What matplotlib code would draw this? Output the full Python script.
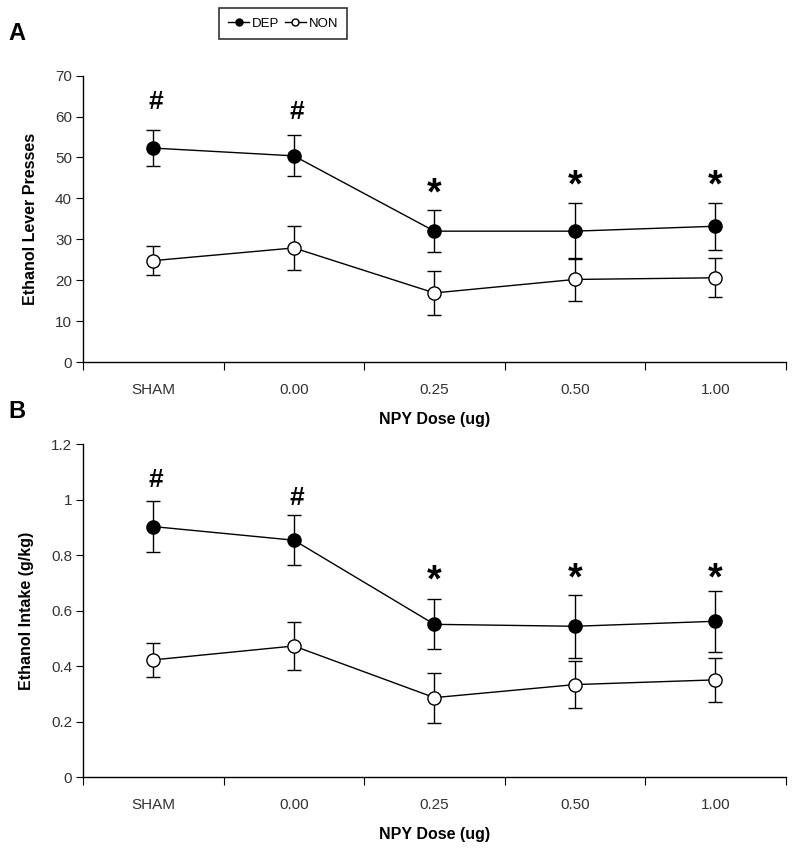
import numpy as np
import matplotlib
matplotlib.use('Agg')
import matplotlib.pyplot as plt
from matplotlib.lines import Line2D

plt.rcParams['font.family'] = ['Liberation Sans', 'DejaVu Sans']

doses = ['SHAM', '0.00', '0.25', '0.50', '1.00']

# panel A - lever presses
dep_press = [52.3, 50.4, 32.0, 32.0, 33.2]
dep_press_err = [4.4, 5.0, 5.2, 6.9, 5.8]
non_press = [24.8, 27.9, 16.9, 20.2, 20.6]
non_press_err = [3.6, 5.4, 5.4, 5.2, 4.8]
marks_press = ['#', '#', '*', '*', '*']
mark_y_press = [63.6, 61.0, 41.0, 42.8, 43.0]

# panel B - intake (g/kg)
dep_intake = [0.903, 0.854, 0.551, 0.544, 0.562]
dep_intake_err = [0.092, 0.09, 0.09, 0.113, 0.11]
non_intake = [0.423, 0.473, 0.287, 0.334, 0.351]
non_intake_err = [0.06, 0.087, 0.09, 0.085, 0.08]
marks_intake = ['#', '#', '*', '*', '*']
mark_y_intake = [1.07, 1.005, 0.705, 0.713, 0.713]

fig = plt.figure(figsize=(8, 8.5), dpi=100)
axA = fig.add_axes([0.104, 0.574, 0.878, 0.337])
axB = fig.add_axes([0.104, 0.0855, 0.878, 0.392])

x = np.arange(len(doses))


def draw(ax, dep, dep_err, non, non_err, marks, mark_y, ylim, yticks, ylabel, fmt):
    ax.errorbar(x, non, yerr=non_err, color='black', lw=1, marker='o', ms=9.5,
                mfc='white', mec='black', mew=1, capsize=5, elinewidth=1, capthick=1, zorder=3)
    ax.errorbar(x, dep, yerr=dep_err, color='black', lw=1, marker='o', ms=9.5,
                mfc='black', mec='black', capsize=5, elinewidth=1, capthick=1, zorder=4)
    for xi, m, yy in zip(x, marks, mark_y):
        ax.text(xi + 0.02 if m == '#' else xi, yy, m, ha='center', va='center',
                fontsize=19 if m == '#' else 27, fontweight='bold')
    ax.set_xlim(-0.5, 4.5)
    ax.set_ylim(*ylim)
    ax.set_yticks(yticks)
    ax.set_yticklabels([fmt(v) for v in yticks], fontsize=11, color='#333333')
    ax.set_xticks(np.arange(-0.5, 5, 1))
    ax.set_xticklabels([])
    ax.set_xticks(x, minor=True)
    ax.set_xticklabels(doses, minor=True, fontsize=11, color='#333333')
    ax.tick_params(axis='x', which='minor', length=0, pad=15)
    ax.tick_params(axis='x', which='major', length=6, direction='out')
    ax.tick_params(axis='y', length=5, direction='out', pad=3)
    for s in ['top', 'right']:
        ax.spines[s].set_visible(False)
    for s in ['left', 'bottom']:
        ax.spines[s].set_linewidth(1)
    ax.set_ylabel(ylabel, fontsize=11.5, fontweight='bold', labelpad=12)
    ax.set_xlabel('NPY Dose (ug)', fontsize=11.5, fontweight='bold', labelpad=11)


draw(axA, dep_press, dep_press_err, non_press, non_press_err, marks_press, mark_y_press,
     (0, 70), list(range(0, 71, 10)), 'Ethanol Lever Presses', lambda v: str(v))
draw(axB, dep_intake, dep_intake_err, non_intake, non_intake_err, marks_intake, mark_y_intake,
     (0, 1.2), [0, 0.2, 0.4, 0.6, 0.8, 1.0, 1.2], 'Ethanol Intake (g/kg)',
     lambda v: '%g' % v)

fig.text(0.01, 0.96, 'A', fontsize=17, fontweight='bold', va='center')
fig.text(0.01, 0.516, 'B', fontsize=17, fontweight='bold', va='center')

handles = [Line2D([], [], color='black', lw=1, marker='o', ms=5, mfc='black', mec='black'),
           Line2D([], [], color='black', lw=1, marker='o', ms=5, mfc='white', mec='black')]
leg = fig.legend(handles, ['DEP', 'NON'], loc='center', bbox_to_anchor=(0.354, 0.972), ncol=2,
                 frameon=True, fancybox=False, edgecolor='black', fontsize=9.5,
                 handlelength=1.6, handletextpad=0.2, columnspacing=0.4, borderpad=0.7,
                 borderaxespad=0)
leg.get_frame().set_linewidth(1.2)

fig.savefig('out.png', dpi=100)
